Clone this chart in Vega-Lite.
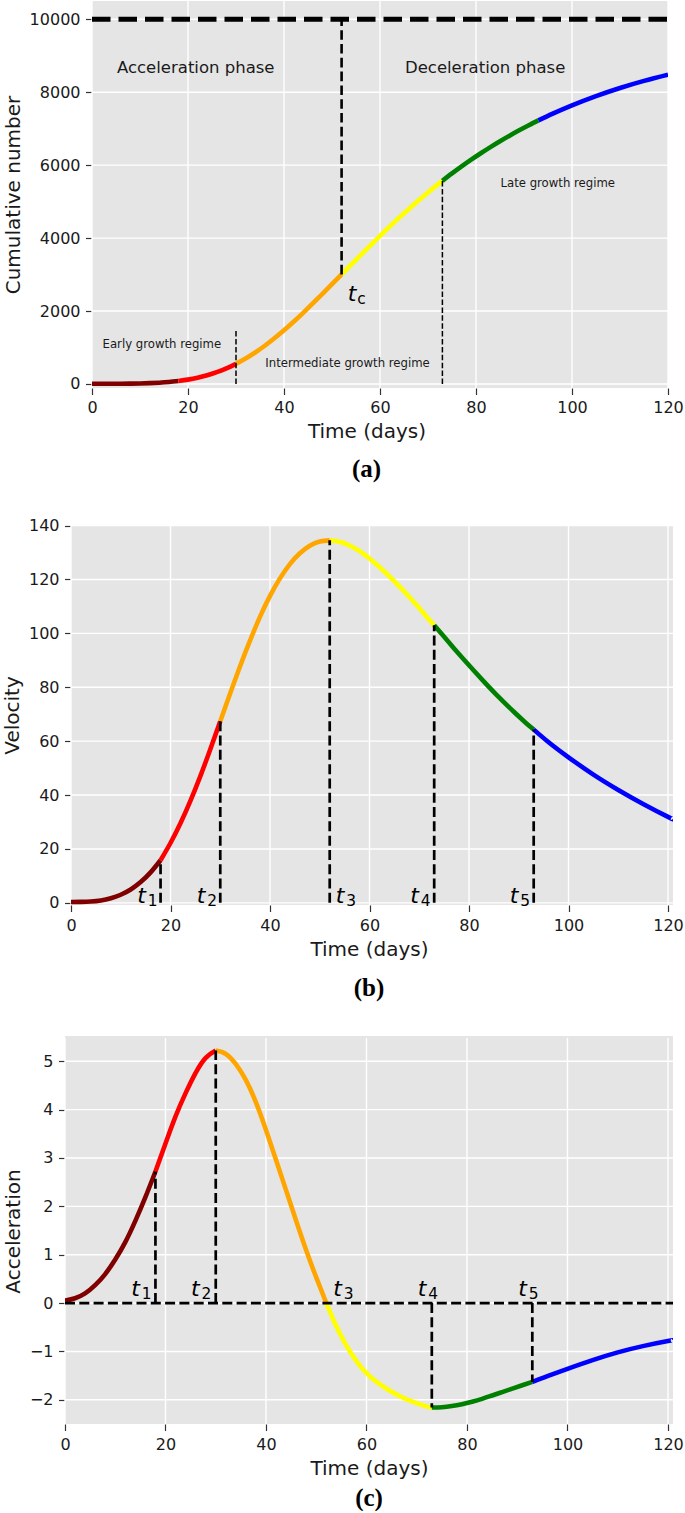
{
  "$schema": "https://vega.github.io/schema/vega-lite/v6.json",
  "padding": {"left": 2, "top": 0, "right": 0, "bottom": 0},
  "datasets": {
    "curve": [
      {"t": 0, "seg": "s1", "C": 5, "V": 0.3, "A": 0.05},
      {"t": 2, "seg": "s1", "C": 6, "V": 0.35, "A": 0.10},
      {"t": 4, "seg": "s1", "C": 7, "V": 0.5, "A": 0.20},
      {"t": 6, "seg": "s1", "C": 8, "V": 0.9, "A": 0.37},
      {"t": 8, "seg": "s1", "C": 11, "V": 1.7, "A": 0.60},
      {"t": 10, "seg": "s1", "C": 15, "V": 3.0, "A": 0.90},
      {"t": 12, "seg": "s1", "C": 23, "V": 4.95, "A": 1.26},
      {"t": 14, "seg": "s1", "C": 36, "V": 7.7, "A": 1.70},
      {"t": 16, "seg": "s1", "C": 55, "V": 11.3, "A": 2.19},
      {"t": 18, "seg": "s1", "C": 82, "V": 15.8, "A": 2.72},
      {"t": 18, "seg": "s2", "C": 82, "V": 15.8, "A": 2.72},
      {"t": 20, "seg": "s2", "C": 120, "V": 22.2, "A": 3.30},
      {"t": 22, "seg": "s2", "C": 171, "V": 29.5, "A": 3.86},
      {"t": 24, "seg": "s2", "C": 239, "V": 37.8, "A": 4.34},
      {"t": 26, "seg": "s2", "C": 324, "V": 47.0, "A": 4.76},
      {"t": 28, "seg": "s2", "C": 428, "V": 57.0, "A": 5.07},
      {"t": 30, "seg": "s2", "C": 552, "V": 67.4, "A": 5.22},
      {"t": 30, "seg": "s3", "C": 552, "V": 67.4, "A": 5.22},
      {"t": 32, "seg": "s3", "C": 697, "V": 77.8, "A": 5.15},
      {"t": 34, "seg": "s3", "C": 863, "V": 87.9, "A": 4.94},
      {"t": 36, "seg": "s3", "C": 1048, "V": 97.4, "A": 4.61},
      {"t": 38, "seg": "s3", "C": 1252, "V": 106.2, "A": 4.15},
      {"t": 40, "seg": "s3", "C": 1472, "V": 113.9, "A": 3.58},
      {"t": 42, "seg": "s3", "C": 1706, "V": 120.4, "A": 2.96},
      {"t": 44, "seg": "s3", "C": 1952, "V": 125.7, "A": 2.33},
      {"t": 46, "seg": "s3", "C": 2208, "V": 129.7, "A": 1.70},
      {"t": 48, "seg": "s3", "C": 2470, "V": 132.5, "A": 1.09},
      {"t": 50, "seg": "s3", "C": 2736, "V": 134.1, "A": 0.53},
      {"t": 52, "seg": "s3", "C": 3005, "V": 134.5, "A": 0.0},
      {"t": 52, "seg": "s4", "C": 3005, "V": 134.5, "A": 0.0},
      {"t": 54, "seg": "s4", "C": 3274, "V": 134.0, "A": -0.48},
      {"t": 56, "seg": "s4", "C": 3540, "V": 132.6, "A": -0.88},
      {"t": 58, "seg": "s4", "C": 3803, "V": 130.5, "A": -1.20},
      {"t": 60, "seg": "s4", "C": 4062, "V": 127.8, "A": -1.45},
      {"t": 62, "seg": "s4", "C": 4314, "V": 124.6, "A": -1.63},
      {"t": 64, "seg": "s4", "C": 4560, "V": 121.1, "A": -1.77},
      {"t": 66, "seg": "s4", "C": 4798, "V": 117.4, "A": -1.89},
      {"t": 68, "seg": "s4", "C": 5029, "V": 113.5, "A": -1.99},
      {"t": 70, "seg": "s4", "C": 5252, "V": 109.4, "A": -2.07},
      {"t": 72, "seg": "s4", "C": 5466, "V": 105.0, "A": -2.14},
      {"t": 73, "seg": "s4", "C": 5570, "V": 103.0, "A": -2.16},
      {"t": 73, "seg": "s5", "C": 5570, "V": 103.0, "A": -2.16},
      {"t": 75, "seg": "s5", "C": 5772, "V": 98.7, "A": -2.155},
      {"t": 77, "seg": "s5", "C": 5965, "V": 94.4, "A": -2.13},
      {"t": 79, "seg": "s5", "C": 6150, "V": 90.2, "A": -2.09},
      {"t": 81, "seg": "s5", "C": 6326, "V": 86.1, "A": -2.04},
      {"t": 83, "seg": "s5", "C": 6495, "V": 82.1, "A": -1.98},
      {"t": 85, "seg": "s5", "C": 6655, "V": 78.2, "A": -1.91},
      {"t": 87, "seg": "s5", "C": 6808, "V": 74.5, "A": -1.84},
      {"t": 89, "seg": "s5", "C": 6954, "V": 70.9, "A": -1.77},
      {"t": 91, "seg": "s5", "C": 7094, "V": 67.5, "A": -1.70},
      {"t": 93, "seg": "s5", "C": 7226, "V": 64.3, "A": -1.63},
      {"t": 93, "seg": "s6", "C": 7226, "V": 64.3, "A": -1.63},
      {"t": 96, "seg": "s6", "C": 7412, "V": 59.6, "A": -1.51},
      {"t": 100, "seg": "s6", "C": 7639, "V": 54.0, "A": -1.36},
      {"t": 105, "seg": "s6", "C": 7893, "V": 47.6, "A": -1.18},
      {"t": 110, "seg": "s6", "C": 8116, "V": 41.9, "A": -1.02},
      {"t": 115, "seg": "s6", "C": 8311, "V": 36.7, "A": -0.89},
      {"t": 120, "seg": "s6", "C": 8482, "V": 31.9, "A": -0.785},
      {"t": 121, "seg": "s6", "C": 8510, "V": 31.1, "A": -0.77}
    ],
    "xgrid": [{"g": 0}, {"g": 20}, {"g": 40}, {"g": 60}, {"g": 80}, {"g": 100}, {"g": 120}],
    "ygridA": [{"g": 0}, {"g": 2000}, {"g": 4000}, {"g": 6000}, {"g": 8000}, {"g": 10000}],
    "ygridB": [{"g": 0}, {"g": 20}, {"g": 40}, {"g": 60}, {"g": 80}, {"g": 100}, {"g": 120}, {"g": 140}],
    "ygridC": [{"g": -2}, {"g": -1}, {"g": 0}, {"g": 1}, {"g": 2}, {"g": 3}, {"g": 4}, {"g": 5}],
    "bgA": [{"x0": 0, "x1": 120, "y0": -110, "y1": 10500}],
    "bgB": [{"x0": 0, "x1": 121, "y0": -0.8, "y1": 140.2}],
    "bgC": [{"x0": 0, "x1": 121, "y0": -2.5, "y1": 5.52}],
    "phaseA": [
      {"t": 5.2, "C": 8658, "label": "Acceleration phase"},
      {"t": 65.2, "C": 8658, "label": "Deceleration phase"}
    ],
    "regimeA": [
      {"t": 85.1, "C": 5499, "label": "Late growth regime"},
      {"t": 2.2, "C": 1088, "label": "Early growth regime"},
      {"t": 36.1, "C": 584, "label": "Intermediate growth regime"}
    ],
    "tcA": [{"t": 53.3, "C": 2274, "n": "c"}],
    "hlineA": [{"t0": 0, "t1": 120, "C": 10000}],
    "vthickA": [{"t": 52, "c0": 3005, "c1": 10000}],
    "vthinA": [{"t": 30, "c0": 0, "c1": 1500}, {"t": 73, "c0": 0, "c1": 5570}],
    "rulesB": [
      {"t": 18, "v0": 0, "v1": 15.8},
      {"t": 30, "v0": 0, "v1": 67.4},
      {"t": 52, "v0": 0, "v1": 134.5},
      {"t": 73, "v0": 0, "v1": 103.0},
      {"t": 93, "v0": 0, "v1": 64.3}
    ],
    "labelsB": [
      {"t": 13.3, "v": 0, "n": "1"},
      {"t": 25.3, "v": 0, "n": "2"},
      {"t": 53.2, "v": 0, "n": "3"},
      {"t": 68.2, "v": 0, "n": "4"},
      {"t": 88.2, "v": 0, "n": "5"}
    ],
    "rulesC": [
      {"t": 18, "a0": 0, "a1": 2.72},
      {"t": 30, "a0": 0, "a1": 5.22},
      {"t": 73, "a0": 0, "a1": -2.16},
      {"t": 93, "a0": 0, "a1": -1.63}
    ],
    "hlineC": [{"t0": 0, "t1": 121, "a": 0}],
    "labelsC": [
      {"t": 13.2, "a": 0.14, "n": "1"},
      {"t": 25.1, "a": 0.14, "n": "2"},
      {"t": 53.4, "a": 0.14, "n": "3"},
      {"t": 70.2, "a": 0.14, "n": "4"},
      {"t": 90.2, "a": 0.14, "n": "5"}
    ]
  },
  "spacing": 35,
  "vconcat": [
    {
      "width": 603,
      "height": 387,
      "title": {"text": "(a)", "offset": 16},
      "encoding": {
        "x": {"type": "quantitative", "scale": {"domain": [-5.625, 120], "nice": false}, "axis": {"title": "Time (days)", "values": [0, 20, 40, 60, 80, 100, 120], "labelPadding": 4.5}},
        "y": {"type": "quantitative", "scale": {"domain": [-110, 10500], "nice": false, "zero": false}, "axis": {"title": "Cumulative number", "values": [0, 2000, 4000, 6000, 8000, 10000], "format": "d", "offset": -27}}
      },
      "layer": [
        {
          "data": {"name": "bgA"},
          "mark": {"type": "rect", "fill": "#E5E5E5"},
          "encoding": {
            "x": {"field": "x0", "type": "quantitative"}, "x2": {"field": "x1"},
            "y": {"field": "y0", "type": "quantitative"}, "y2": {"field": "y1"}
          }
        },
        {
          "data": {"name": "xgrid"},
          "mark": {"type": "rule", "color": "#FFFFFF", "strokeWidth": 1.4},
          "encoding": {"x": {"field": "g", "type": "quantitative"}}
        },
        {
          "data": {"name": "ygridA"},
          "mark": {"type": "rule", "color": "#FFFFFF", "strokeWidth": 1.4},
          "encoding": {"y": {"field": "g", "type": "quantitative"}, "x": {"datum": 0}, "x2": {"datum": 120}}
        },
        {
          "data": {"name": "curve"},
          "transform": [{"filter": "datum.t <= 120"}],
          "mark": {"type": "line", "strokeWidth": 4.6, "interpolate": "natural", "clip": true},
          "encoding": {
            "x": {"field": "t", "type": "quantitative"},
            "y": {"field": "C", "type": "quantitative"},
            "color": {"field": "seg", "type": "nominal", "scale": {"domain": ["s1", "s2", "s3", "s4", "s5", "s6"], "range": ["#800000", "#FF0000", "#FFA500", "#FFFF00", "#008000", "#0000FF"]}, "legend": null}
          }
        },
        {
          "data": {"name": "hlineA"},
          "mark": {"type": "rule", "strokeWidth": 5, "strokeDash": [18.5, 8], "color": "#000000"},
          "encoding": {
            "x": {"field": "t0", "type": "quantitative"},
            "x2": {"field": "t1"},
            "y": {"field": "C", "type": "quantitative"}
          }
        },
        {
          "data": {"name": "vthickA"},
          "mark": {"type": "rule", "strokeWidth": 2.6, "strokeDash": [9.6, 4.2], "color": "#000000"},
          "encoding": {
            "x": {"field": "t", "type": "quantitative"},
            "y": {"field": "c0", "type": "quantitative"},
            "y2": {"field": "c1"}
          }
        },
        {
          "data": {"name": "vthinA"},
          "mark": {"type": "rule", "strokeWidth": 1.5, "strokeDash": [5.5, 2.4], "color": "#000000"},
          "encoding": {
            "x": {"field": "t", "type": "quantitative"},
            "y": {"field": "c0", "type": "quantitative"},
            "y2": {"field": "c1"}
          }
        },
        {
          "data": {"name": "phaseA"},
          "mark": {"type": "text", "fontSize": 16.5, "align": "left", "baseline": "middle", "color": "#1a1a1a"},
          "encoding": {
            "x": {"field": "t", "type": "quantitative"},
            "y": {"field": "C", "type": "quantitative"},
            "text": {"field": "label"}
          }
        },
        {
          "data": {"name": "regimeA"},
          "mark": {"type": "text", "fontSize": 11.7, "align": "left", "baseline": "middle", "color": "#1a1a1a"},
          "encoding": {
            "x": {"field": "t", "type": "quantitative"},
            "y": {"field": "C", "type": "quantitative"},
            "text": {"field": "label"}
          }
        },
        {
          "data": {"name": "tcA"},
          "mark": {"type": "text", "fontSize": 22, "fontStyle": "italic", "align": "left", "baseline": "alphabetic", "color": "#000000"},
          "encoding": {
            "x": {"field": "t", "type": "quantitative"},
            "y": {"field": "C", "type": "quantitative"},
            "text": {"value": "t"}
          }
        },
        {
          "data": {"name": "tcA"},
          "mark": {"type": "text", "fontSize": 15.4, "align": "left", "baseline": "alphabetic", "dx": 9.5, "dy": 3, "color": "#000000"},
          "encoding": {
            "x": {"field": "t", "type": "quantitative"},
            "y": {"field": "C", "type": "quantitative"},
            "text": {"field": "n"}
          }
        }
      ]
    },
    {
      "width": 608,
      "height": 380,
      "title": {"text": "(b)", "offset": 17},
      "encoding": {
        "x": {"type": "quantitative", "scale": {"domain": [-1.206, 121], "nice": false}, "axis": {"title": "Time (days)", "values": [0, 20, 40, 60, 80, 100, 120]}},
        "y": {"type": "quantitative", "scale": {"domain": [-0.8, 140.2], "nice": false, "zero": false}, "axis": {"title": "Velocity", "values": [0, 20, 40, 60, 80, 100, 120, 140], "offset": -6}}
      },
      "layer": [
        {
          "data": {"name": "bgB"},
          "mark": {"type": "rect", "fill": "#E5E5E5"},
          "encoding": {
            "x": {"field": "x0", "type": "quantitative"}, "x2": {"field": "x1"},
            "y": {"field": "y0", "type": "quantitative"}, "y2": {"field": "y1"}
          }
        },
        {
          "data": {"name": "xgrid"},
          "mark": {"type": "rule", "color": "#FFFFFF", "strokeWidth": 1.4},
          "encoding": {"x": {"field": "g", "type": "quantitative"}}
        },
        {
          "data": {"name": "ygridB"},
          "mark": {"type": "rule", "color": "#FFFFFF", "strokeWidth": 1.4},
          "encoding": {"y": {"field": "g", "type": "quantitative"}, "x": {"datum": 0}, "x2": {"datum": 121}}
        },
        {
          "data": {"name": "curve"},
          "mark": {"type": "line", "strokeWidth": 4.6, "interpolate": "natural", "clip": true},
          "encoding": {
            "x": {"field": "t", "type": "quantitative"},
            "y": {"field": "V", "type": "quantitative"},
            "color": {"field": "seg", "type": "nominal", "legend": null}
          }
        },
        {
          "data": {"name": "rulesB"},
          "mark": {"type": "rule", "strokeWidth": 2.7, "strokeDash": [10, 4.3], "color": "#000000"},
          "encoding": {
            "x": {"field": "t", "type": "quantitative"},
            "y": {"field": "v0", "type": "quantitative"},
            "y2": {"field": "v1"}
          }
        },
        {
          "data": {"name": "labelsB"},
          "mark": {"type": "text", "fontSize": 22, "fontStyle": "italic", "align": "left", "baseline": "alphabetic", "color": "#000000"},
          "encoding": {
            "x": {"field": "t", "type": "quantitative"},
            "y": {"field": "v", "type": "quantitative"},
            "text": {"value": "t"}
          }
        },
        {
          "data": {"name": "labelsB"},
          "mark": {"type": "text", "fontSize": 15.4, "align": "left", "baseline": "alphabetic", "dx": 10.5, "dy": 3, "color": "#000000"},
          "encoding": {
            "x": {"field": "t", "type": "quantitative"},
            "y": {"field": "v", "type": "quantitative"},
            "text": {"field": "n"}
          }
        }
      ]
    },
    {
      "width": 608,
      "height": 386,
      "title": {"text": "(c)", "offset": 8},
      "encoding": {
        "x": {"type": "quantitative", "scale": {"domain": [0, 121], "nice": false}, "axis": {"title": "Time (days)", "values": [0, 20, 40, 60, 80, 100, 120]}},
        "y": {"type": "quantitative", "scale": {"domain": [-2.5, 5.48], "nice": false, "zero": false}, "axis": {"title": "Acceleration", "values": [-2, -1, 0, 1, 2, 3, 4, 5]}}
      },
      "layer": [
        {
          "data": {"name": "bgC"},
          "mark": {"type": "rect", "fill": "#E5E5E5"},
          "encoding": {
            "x": {"field": "x0", "type": "quantitative"}, "x2": {"field": "x1"},
            "y": {"field": "y0", "type": "quantitative"}, "y2": {"field": "y1"}
          }
        },
        {
          "data": {"name": "xgrid"},
          "mark": {"type": "rule", "color": "#FFFFFF", "strokeWidth": 1.4},
          "encoding": {"x": {"field": "g", "type": "quantitative"}}
        },
        {
          "data": {"name": "ygridC"},
          "mark": {"type": "rule", "color": "#FFFFFF", "strokeWidth": 1.4},
          "encoding": {"y": {"field": "g", "type": "quantitative"}, "x": {"datum": 0}, "x2": {"datum": 121}}
        },
        {
          "data": {"name": "curve"},
          "mark": {"type": "line", "strokeWidth": 4.6, "interpolate": "natural", "clip": true},
          "encoding": {
            "x": {"field": "t", "type": "quantitative"},
            "y": {"field": "A", "type": "quantitative"},
            "color": {"field": "seg", "type": "nominal", "legend": null}
          }
        },
        {
          "data": {"name": "hlineC"},
          "mark": {"type": "rule", "strokeWidth": 2.7, "strokeDash": [10, 4.3], "color": "#000000"},
          "encoding": {
            "x": {"field": "t0", "type": "quantitative"},
            "x2": {"field": "t1"},
            "y": {"field": "a", "type": "quantitative"}
          }
        },
        {
          "data": {"name": "rulesC"},
          "mark": {"type": "rule", "strokeWidth": 2.7, "strokeDash": [10, 4.3], "color": "#000000"},
          "encoding": {
            "x": {"field": "t", "type": "quantitative"},
            "y": {"field": "a0", "type": "quantitative"},
            "y2": {"field": "a1"}
          }
        },
        {
          "data": {"name": "labelsC"},
          "mark": {"type": "text", "fontSize": 22, "fontStyle": "italic", "align": "left", "baseline": "alphabetic", "color": "#000000"},
          "encoding": {
            "x": {"field": "t", "type": "quantitative"},
            "y": {"field": "a", "type": "quantitative"},
            "text": {"value": "t"}
          }
        },
        {
          "data": {"name": "labelsC"},
          "mark": {"type": "text", "fontSize": 15.4, "align": "left", "baseline": "alphabetic", "dx": 10.5, "dy": 2.5, "color": "#000000"},
          "encoding": {
            "x": {"field": "t", "type": "quantitative"},
            "y": {"field": "a", "type": "quantitative"},
            "text": {"field": "n"}
          }
        }
      ]
    }
  ],
  "config": {
    "font": "DejaVu Sans",
    "view": {"fill": null, "stroke": null},
    "text": {"font": "DejaVu Sans"},
    "axis": {
      "domain": false,
      "grid": false,
      "tickColor": "#333333",
      "tickSize": 6.5,
      "tickWidth": 1.2,
      "labelFont": "DejaVu Sans",
      "labelFontSize": 16,
      "labelColor": "#1a1a1a",
      "labelPadding": 5.5,
      "labelFlush": false,
      "labelOverlap": false,
      "titleFont": "DejaVu Sans",
      "titleFontSize": 20,
      "titleFontWeight": "normal",
      "titleColor": "#1a1a1a",
      "titlePadding": 6
    },
    "title": {
      "orient": "bottom",
      "anchor": "middle",
      "frame": "group",
      "font": "Liberation Serif",
      "fontSize": 25,
      "fontWeight": "bold",
      "color": "#000000"
    }
  }
}
